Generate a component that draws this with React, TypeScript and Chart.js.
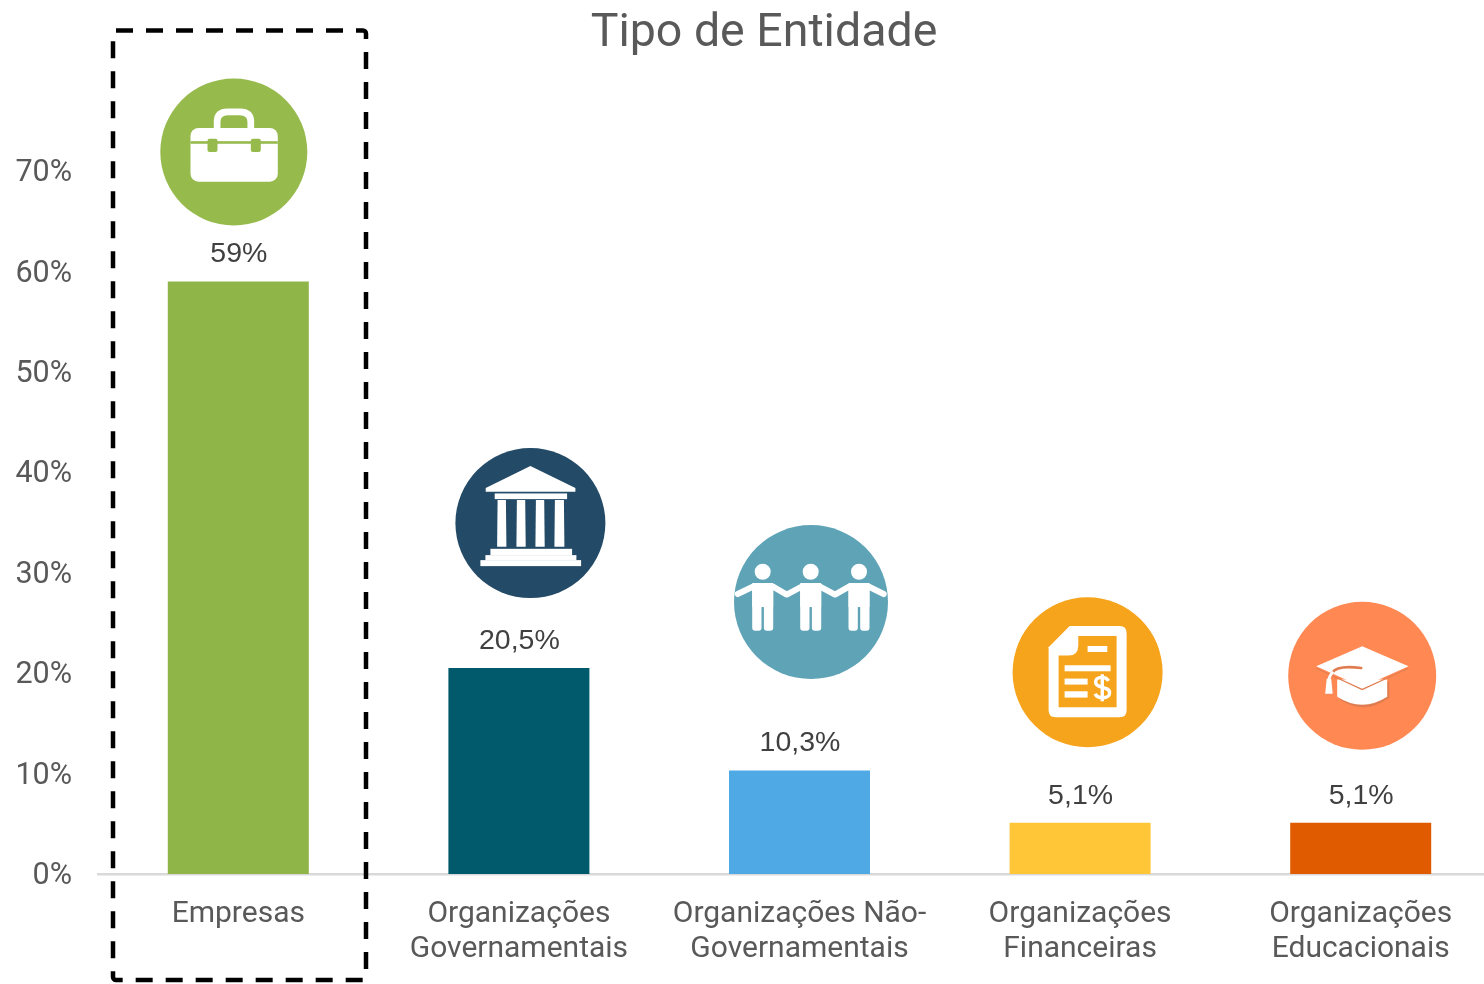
import React, { useEffect, useRef } from "react";
import { Chart, registerables } from "chart.js";

Chart.register(...registerables);

const chartTitle = "Tipo de Entidade";
const categories = [
  ["Empresas"],
  ["Organizações", "Governamentais"],
  ["Organizações Não-", "Governamentais"],
  ["Organizações", "Financeiras"],
  ["Organizações", "Educacionais"],
];
const shareValues = [59, 20.5, 10.3, 5.1, 5.1];
const valueLabels = ["59%", "20,5%", "10,3%", "5,1%", "5,1%"];
const barColors = ["#8FB548", "#005A6B", "#4EA9E5", "#FFC637", "#E05A00"];
const iconColors = ["#97BA4D", "#234A66", "#5FA3B7", "#F7A41D", "#FF8853"];
const iconRadius = [73.5, 75, 77, 75, 74];
const iconDx = [-4.5, 11.5, 11.5, 7.5, 1.5];
const iconDy = [-129.5, -145, -168.5, -150.5, -147];

type C = CanvasRenderingContext2D;

function rr(c: C, x0: number, y0: number, x1: number, y1: number, r: number) {
  c.beginPath();
  c.roundRect(x0, y0, x1 - x0, y1 - y0, r);
}

function briefcase(c: C, bg: string) {
  c.fillStyle = "#fff";
  c.strokeStyle = "#fff";
  c.lineWidth = 6.7;
  c.beginPath();
  c.moveTo(-16.7, -22);
  c.lineTo(-16.7, -30);
  c.quadraticCurveTo(-16.7, -40, -6, -40);
  c.lineTo(6, -40);
  c.quadraticCurveTo(17, -40, 17, -30);
  c.lineTo(17, -22);
  c.stroke();
  rr(c, -43.3, -24, 44, 29.7, 8);
  c.fill();
  c.fillStyle = bg;
  c.fillRect(-43.3, -10.8, 87.3, 2.6);
  rr(c, -26.3, -13.3, -16.3, 0, 2);
  c.fill();
  rr(c, 17, -13.3, 27, 0, 2);
  c.fill();
}

function bank(c: C) {
  c.fillStyle = "#fff";
  c.beginPath();
  c.moveTo(0, -57);
  c.lineTo(45, -35);
  c.lineTo(45, -31.3);
  c.lineTo(-44.7, -31.3);
  c.lineTo(-44.7, -35);
  c.closePath();
  c.fill();
  c.fillRect(-35.7, -29.7, 72.4, 5.7);
  for (const [a, b] of [[-33.3, -24], [-14, -4.7], [5, 14.3], [24, 34]]) {
    c.beginPath();
    c.moveTo(a + 0.5, -23);
    c.lineTo(b - 0.5, -23);
    c.lineTo(b, 23.7);
    c.lineTo(a, 23.7);
    c.closePath();
    c.fill();
  }
  c.fillRect(-40, 25.7, 81.7, 6.6);
  c.fillRect(-45, 32, 91, 5.3);
  c.fillRect(-50, 37, 100.7, 6);
}

function people(c: C) {
  c.fillStyle = "#fff";
  c.strokeStyle = "#fff";
  c.lineCap = "round";
  c.lineJoin = "round";
  for (const px of [-48.3, -0.3, 48]) {
    c.beginPath();
    c.arc(px, -30.3, 8, 0, Math.PI * 2);
    c.fill();
    rr(c, px - 10.5, -19, px - 1.2, 28.7, 3);
    c.fill();
    rr(c, px + 1.2, -19, px + 10.5, 28.7, 3);
    c.fill();
    c.fillRect(px - 10.5, -19, 21, 24);
  }
  c.lineWidth = 6;
  c.beginPath();
  c.moveTo(-73.3, -8);
  c.lineTo(-57.7, -15.5);
  c.lineTo(-38, -15.5);
  c.lineTo(-24.3, -7.5);
  c.lineTo(-9.3, -15.5);
  c.lineTo(9, -15.5);
  c.lineTo(24, -7.5);
  c.lineTo(38, -15.5);
  c.lineTo(57.5, -15.5);
  c.lineTo(72.7, -8);
  c.stroke();
  c.lineCap = "butt";
}

function invoice(c: C, bg: string) {
  c.fillStyle = "#fff";
  c.beginPath();
  c.moveTo(-39, -25);
  c.lineTo(-18, -46.3);
  c.lineTo(32, -46.3);
  c.quadraticCurveTo(39, -46.3, 39, -39);
  c.lineTo(39, 38);
  c.quadraticCurveTo(39, 45, 32, 45);
  c.lineTo(-32, 45);
  c.quadraticCurveTo(-39, 45, -39, 38);
  c.closePath();
  c.fill();
  c.fillStyle = bg;
  c.beginPath();
  c.moveTo(-9.3, -36.3);
  c.lineTo(29, -36.3);
  c.lineTo(29, 35);
  c.lineTo(-29, 35);
  c.lineTo(-29, -16.7);
  c.lineTo(-19, -16.7);
  c.quadraticCurveTo(-9.3, -16.7, -9.3, -27);
  c.closePath();
  c.fill();
  c.fillStyle = "#fff";
  c.fillRect(0, -26.3, 19.7, 6);
  c.fillRect(-23, -7, 46, 6);
  c.fillRect(-23, 6.3, 23, 6);
  c.fillRect(-23, 19, 23, 6.3);
  c.strokeStyle = "#fff";
  c.lineWidth = 3.4;
  c.beginPath();
  c.moveTo(21, 8.5);
  c.bezierCurveTo(18, 3.5, 8, 4, 8, 10);
  c.bezierCurveTo(8, 16.5, 22, 13.5, 22, 20.5);
  c.bezierCurveTo(22, 27, 10, 27, 7.5, 21.5);
  c.moveTo(14.7, 2);
  c.lineTo(14.7, 29);
  c.stroke();
}

function gradCap(c: C) {
  const shade = "#DF7D50";
  c.fillStyle = shade;
  c.beginPath();
  c.moveTo(-24, 6);
  c.lineTo(27, 6);
  c.lineTo(27, 22);
  c.quadraticCurveTo(2, 40, -22, 24);
  c.closePath();
  c.fill();
  c.fillStyle = "#fff";
  c.beginPath();
  c.moveTo(-25, 3.8);
  c.lineTo(25, 3.8);
  c.lineTo(25, 21);
  c.quadraticCurveTo(0, 37, -25, 21);
  c.closePath();
  c.fill();
  c.fillStyle = shade;
  c.beginPath();
  c.moveTo(-46, -8);
  c.lineTo(0, 13);
  c.lineTo(46.3, -8);
  c.lineTo(46.3, -7);
  c.lineTo(0, 14.5);
  c.lineTo(-46, -7);
  c.closePath();
  c.fill();
  c.fillStyle = "#fff";
  c.beginPath();
  c.moveTo(0, -29.5);
  c.lineTo(46.3, -9.5);
  c.lineTo(0, 11.2);
  c.lineTo(-46, -9.5);
  c.closePath();
  c.fill();
  c.strokeStyle = shade;
  c.lineWidth = 2.6;
  c.lineCap = "round";
  c.beginPath();
  c.moveTo(-1, -7.7);
  c.quadraticCurveTo(-25, -11, -30, -3);
  c.stroke();
  c.lineCap = "butt";
  c.strokeStyle = "#fff";
  c.lineWidth = 2.6;
  c.beginPath();
  c.moveTo(-29, -4);
  c.quadraticCurveTo(-33, 0, -33.5, 4);
  c.stroke();
  c.fillStyle = "#fff";
  c.beginPath();
  c.moveTo(-35.5, 3);
  c.lineTo(-31, 3);
  c.lineTo(-29.5, 18);
  c.lineTo(-37, 18);
  c.closePath();
  c.fill();
}

const overlayPlugin = {
  id: "overlay",
  afterDatasetsDraw(chart: any) {
    const c: C = chart.ctx;
    const meta = chart.getDatasetMeta(0);
    c.save();

    // value labels
    c.textAlign = "center";
    c.textBaseline = "middle";
    c.font = "28.5px 'Liberation Sans'";
    c.fillStyle = "#404040";
    meta.data.forEach((bar: any, i: number) => {
      c.fillText(valueLabels[i], bar.x + 0.5, bar.y - 27);
    });

    // round icons, placed relative to their bars
    meta.data.forEach((bar: any, i: number) => {
      c.save();
      c.translate(bar.x + iconDx[i], bar.y + iconDy[i]);
      c.fillStyle = iconColors[i];
      c.beginPath();
      c.arc(0, 0, iconRadius[i], 0, Math.PI * 2);
      c.fill();
      if (i === 0) briefcase(c, iconColors[i]);
      if (i === 1) bank(c);
      if (i === 2) people(c);
      if (i === 3) invoice(c, iconColors[i]);
      if (i === 4) gradCap(c);
      c.restore();
    });

    // title
    c.font = "400 46.5px Roboto";
    c.fillStyle = "#595959";
    c.fillText(chartTitle, 764, 34);

    // dashed highlight box
    c.strokeStyle = "#000";
    c.lineWidth = 4.5;
    c.setLineDash([17, 13]);
    c.beginPath();
    c.roundRect(113, 30.5, 253, 949.5, 3);
    c.stroke();
    c.restore();
  },
};

export default function App() {
  const ref = useRef<HTMLCanvasElement>(null);
  useEffect(() => {
    const chart = new Chart(ref.current!, {
      type: "bar",
      data: {
        labels: categories,
        datasets: [
          {
            data: shareValues,
            backgroundColor: barColors,
            barPercentage: 0.5025,
            categoryPercentage: 1,
          },
        ],
      },
      options: {
        responsive: false,
        animation: false,
        layout: { padding: { top: 171, right: 0, left: 0, bottom: 0 } },
        plugins: { legend: { display: false }, title: { display: false }, tooltip: { enabled: false } },
        scales: {
          x: {
            grid: { display: false, drawTicks: false },
            border: { display: true, color: "#D9D9D9", width: 2.5 },
            ticks: {
              color: "#595959",
              padding: 23,
              maxRotation: 0,
              autoSkip: false,
              font: { family: "Roboto", size: 30, lineHeight: 1.17 },
            },
            afterFit(axis: any) {
              axis.height = 110;
            },
          },
          y: {
            min: 0,
            max: 70,
            grid: { display: false, drawTicks: false },
            border: { display: false },
            ticks: {
              stepSize: 10,
              color: "#595959",
              padding: 26,
              labelOffset: 2.5,
              font: { family: "Roboto", size: 30.5 },
              callback: (v: any) => v + "%",
            },
            afterFit(axis: any) {
              axis.width = 98;
            },
          },
        },
      },
      plugins: [overlayPlugin],
    } as any);
    return () => chart.destroy();
  }, []);
  return (
    <div style={{ position: "fixed", left: 0, top: 0, width: 1484, height: 984, overflow: "hidden", background: "#fff" }}>
      <canvas ref={ref} width={1501} height={984} style={{ display: "block" }} />
    </div>
  );
}
